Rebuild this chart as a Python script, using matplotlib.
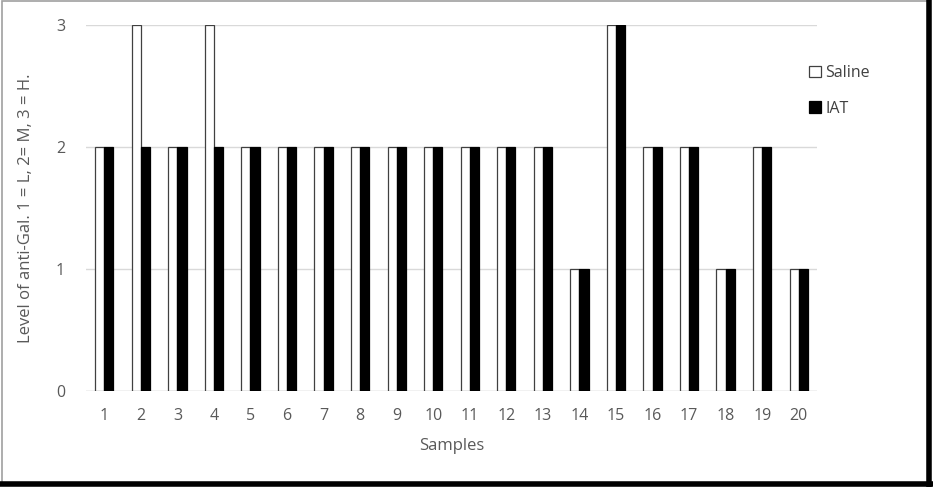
import matplotlib.pyplot as plt
import numpy as np
from matplotlib.patches import Rectangle

samples = [str(i) for i in range(1, 21)]
saline = [2, 3, 2, 3, 2, 2, 2, 2, 2, 2, 2, 2, 2, 1, 3, 2, 2, 1, 2, 1]
iat = [2, 2, 2, 2, 2, 2, 2, 2, 2, 2, 2, 2, 2, 1, 3, 2, 2, 1, 2, 1]

plt.rcParams['font.family'] = ['Open Sans', 'DejaVu Sans']

fig = plt.figure(figsize=(9.33, 4.87), dpi=100)
ax = fig.add_axes([86 / 933, 1 - 391 / 487, 731 / 933, 366 / 487])

x = np.arange(len(samples))
w = 0.25
ax.bar(x - w / 2, saline, w, color='white', edgecolor='#404040', linewidth=0.9, label='Saline', zorder=3)
ax.bar(x + w / 2, iat, w, color='black', edgecolor='black', linewidth=0.9, label='IAT', zorder=3)

ax.set_xlim(-0.5, len(samples) - 0.5)
ax.set_ylim(0, 3)
ax.set_yticks([0, 1, 2, 3])
ax.set_xticks(x)
ax.set_xticklabels(samples)
ax.grid(axis='y', color='#d9d9d9', linewidth=1, zorder=0)
for s in ax.spines.values():
    s.set_visible(False)
ax.axhline(0, color='#d9d9d9', linewidth=1, zorder=1)
ax.tick_params(length=0, colors='#595959', labelsize=11.5, pad=12)
ax.tick_params(axis='y', pad=15)

ax.set_xlabel('Samples', color='#595959', fontsize=12, labelpad=10)
ax.set_ylabel('Level of anti-Gal. 1 = L, 2= M, 3 = H.', color='#595959', fontsize=12, labelpad=16)

leg = fig.legend(loc='upper left', bbox_to_anchor=(795 / 933, 1 - 51 / 487), frameon=False,
                 fontsize=11.5, handlelength=0.7, handleheight=0.7, handletextpad=0.3,
                 labelspacing=1.2, labelcolor='#404040')

# рамка скриншота
fig.patches.append(Rectangle((0.002, 0.008), 0.993, 0.99, transform=fig.transFigure,
                             fill=False, edgecolor='#a0a0a0', linewidth=1.2))
fig.lines.append(plt.Line2D([0, 1], [0.006, 0.006], transform=fig.transFigure, color='black', linewidth=4))
fig.lines.append(plt.Line2D([0.996, 0.996], [0, 1], transform=fig.transFigure, color='black', linewidth=4))

fig.savefig('out.png', dpi=100)
